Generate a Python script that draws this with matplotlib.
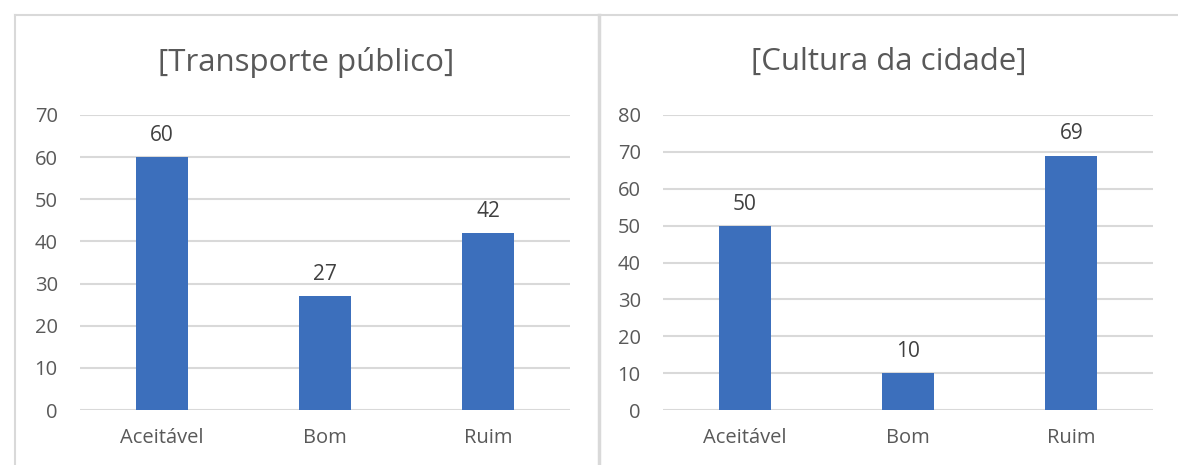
import matplotlib.pyplot as plt
from matplotlib.lines import Line2D

plt.rcParams['font.family'] = ['Open Sans', 'DejaVu Sans']

categories = ['Aceitável', 'Bom', 'Ruim']
transporte = [60, 27, 42]
cultura = [50, 10, 69]

W, H = 1178, 465
fig = plt.figure(figsize=(W / 100, H / 100), dpi=100)
fig.patch.set_facecolor('white')

bar_color = '#3c6fbc'
grid_color = '#d9d9d9'


def px_axes(x0, x1, ytop, ybot):
    return fig.add_axes([x0 / W, 1 - ybot / H, (x1 - x0) / W, (ybot - ytop) / H])


def panel(ax, values, title, ymax, title_x):
    xs = range(len(categories))
    ax.bar(xs, values, width=0.32, color=bar_color, zorder=3)
    for x, v in zip(xs, values):
        ax.annotate(str(v), (x, v), xytext=(0, 8), textcoords='offset points',
                    ha='center', va='bottom', fontsize=15, color='#404040')
    ax.set_xlim(-0.5, len(categories) - 0.5)
    ax.set_ylim(0, ymax)
    ax.set_yticks(range(0, ymax + 1, 10))
    ax.set_xticks(list(xs))
    ax.set_xticklabels(categories)
    ax.grid(axis='y', color=grid_color, linewidth=1.5, zorder=0)
    for s in ax.spines.values():
        s.set_visible(False)
    ax.tick_params(length=0, labelsize=14.5, labelcolor='#595959')
    ax.tick_params(axis='y', pad=16)
    ax.tick_params(axis='x', pad=13)
    fig.text(title_x / W, 1 - 62 / H, title, fontsize=22.5, color='#595959',
             ha='center', va='center')


ax1 = px_axes(80, 570, 115, 410)
panel(ax1, transporte, '[Transporte público]', 70, 306)

ax2 = px_axes(663, 1153, 115, 410)
panel(ax2, cultura, '[Cultura da cidade]', 80, 889)

# panel borders
border = '#d9d9d9'
fig.add_artist(Line2D([15 / W, 1], [1 - 15 / H, 1 - 15 / H], color=border, lw=1.5))
fig.add_artist(Line2D([15 / W, 15 / W], [0, 1 - 15 / H], color=border, lw=1.5))
fig.add_artist(Line2D([599 / W, 599 / W], [0, 1 - 15 / H], color=border, lw=2.5))

fig.savefig('out.png', dpi=100, facecolor='white')
